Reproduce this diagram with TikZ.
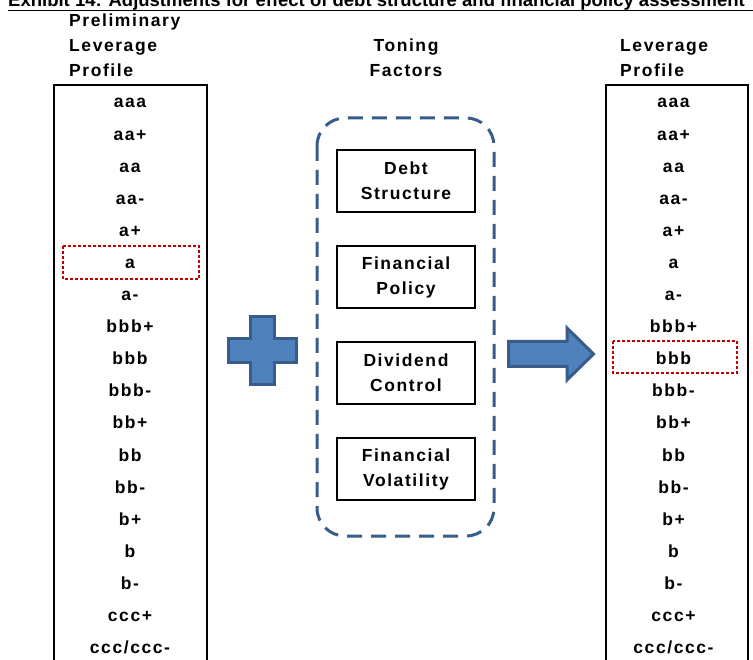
\documentclass[tikz,border=0pt]{standalone}
\usepackage{fontspec}
\setmainfont{Liberation Sans}
\newfontfamily\spaced[LetterSpace=9]{Liberation Sans}
\definecolor{fillblue}{HTML}{4F81BD}
\definecolor{edgeblue}{HTML}{385D8A}
\definecolor{pickred}{HTML}{C00000}

\begin{document}
\begin{tikzpicture}[x=1pt,y=-1pt]
\tikzstyle{every node}+=[inner sep=0pt]
\tikzstyle{lbl}=[font=\spaced\bfseries\fontsize{17.5}{25}\selectfont]
\tikzstyle{head}=[lbl, anchor=base west]
\tikzstyle{rating}=[lbl, anchor=base]
\tikzstyle{factor}=[lbl, draw=black, line width=2pt, minimum width=138pt, minimum height=62pt, align=center]
\tikzstyle{pick}=[draw=pickred, line width=2pt, dash pattern=on 3pt off 2pt]
\useasboundingbox (0,0) rectangle (753,660);
% title, cut at the top
\node[anchor=base west, font=\bfseries\fontsize{18.5}{18.5}\selectfont] (title) at (8,7) {Exhibit 14: Adjustments for effect of debt structure and financial policy assessment};
\draw[line width=1.5pt] (8,10.5) -- (753,10.5);
% headers
\node[head] (pre1) at (69,26.5) {Preliminary};
\node[head] (pre2) at (69,51.5) {Leverage};
\node[head] (pre3) at (69,76.5) {Profile};
\node[lbl, anchor=base] (ton1) at (406,51.5) {Toning};
\node[lbl, anchor=base] (ton2) at (406,76.5) {Factors};
\node[head] (out1) at (620,51.5) {Leverage};
\node[head] (out2) at (620,76.5) {Profile};
% rating columns
\draw[line width=2pt] (54,700) -- (54,85) -- (207,85) -- (207,700);
\draw[line width=2pt] (606,700) -- (606,85) -- (748,85) -- (748,700);
\foreach \r [count=\i from 0] in {aaa,aa+,aa,aa-,a+,a,a-,bbb+,bbb,bbb-,bb+,bb,bb-,b+,b,b-,ccc+,ccc/ccc-} {
  \node[rating] (pre-\i) at (130,108+32.1*\i) {\r};
  \node[rating] (out-\i) at (673.5,108+32.1*\i) {\r};
}
\draw[pick] (63,246) rectangle (199,279);
\draw[pick] (613,341) rectangle (737,373);
% toning factors
\draw[edgeblue, line width=3pt, dash pattern=on 15pt off 9pt, rounded corners=28pt] (317,118) rectangle (494,536);
\node[factor] (debt) at (406,181) {Debt\\Structure};
\node[factor] (policy) at (406,277) {Financial\\Policy};
\node[factor] (dividend) at (406,373) {Dividend\\Control};
\node[factor] (volatility) at (406,469) {Financial\\Volatility};
% plus and arrow
\draw[edgeblue, fill=fillblue, line width=3pt, shift={(262.5,350.5)}]
  (-12,-34) -- (12,-34) -- (12,-12) -- (34,-12) -- (34,12) -- (12,12) -- (12,34)
  -- (-12,34) -- (-12,12) -- (-34,12) -- (-34,-12) -- (-12,-12) -- cycle;
\draw[edgeblue, fill=fillblue, line width=3pt]
  (508.5,341.5) -- (567,341.5) -- (567,328) -- (593.5,354) -- (567,380)
  -- (567,366.5) -- (508.5,366.5) -- cycle;
\end{tikzpicture}
\end{document}
